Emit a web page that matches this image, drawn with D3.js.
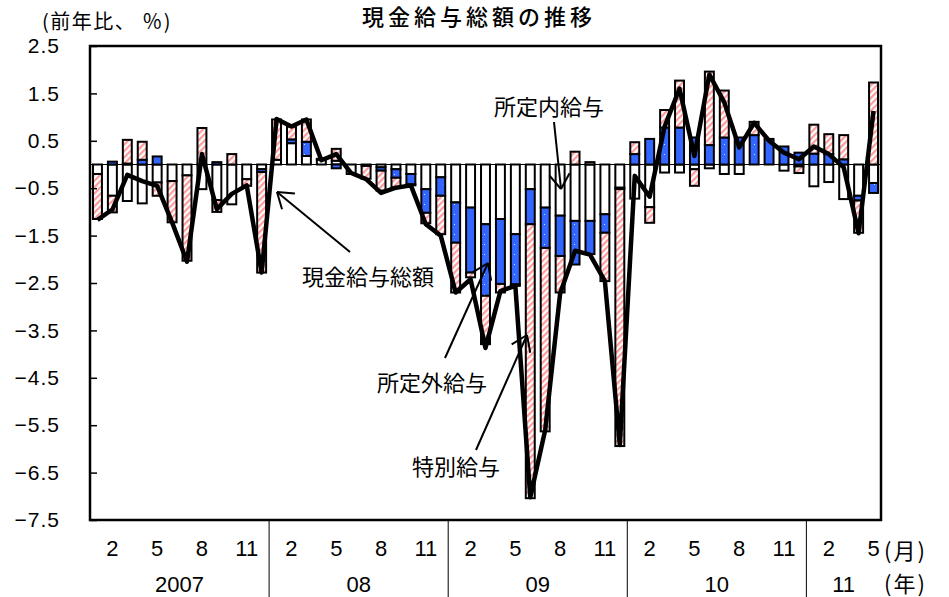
<!DOCTYPE html>
<html><head><meta charset="utf-8">
<script src="https://cdn.jsdelivr.net/npm/d3@7"></script>
<style>
body{margin:0;background:#fff}
svg{display:block}
.num{font-family:"Liberation Sans",Arial,sans-serif}
.jp{font-family:"Noto Sans CJK JP","Noto Sans CJK SC",sans-serif}
</style>
</head><body>
<svg id="c" width="949" height="597"></svg>
<script>
// ---------------- data ----------------
const years = ["2007", "08", "09", "10", "11"];
const monthsInYear = [12, 12, 12, 12, 5];
const monthTicks = [2, 5, 8, 11];
const yTicks = [2.5, 1.5, 0.5, -0.5, -1.5, -2.5, -3.5, -4.5, -5.5, -6.5, -7.5];

// 所定内給与 (scheduled earnings)
const shoteinai = [
  -0.20, -0.66, -0.77, -0.82, -0.38, -0.35, -0.23, -0.52, -0.75, -0.84, -0.31, -0.10,
   0.10,  0.45,  0.18,  0.10,  0.08, -0.20, -0.03, -0.06, -0.10, -0.20, -0.52, -0.27,
  -0.80, -0.91, -1.26, -1.15, -1.47, -0.52, -0.91, -1.08, -1.19, -1.19, -1.05, -0.49,
  -0.72, -0.90, -0.17, -0.17, -0.10, -0.08, -0.20, -0.20,  0.00,  0.00, -0.13, -0.04,
  -0.46, -0.37, -0.73, -0.66, -0.39
];
// 所定外給与 (non-scheduled earnings)
const shoteigai = [
   0.00,  0.06,  0.02,  0.10,  0.17,  0.00,  0.00,  0.00,  0.05,  0.00,  0.00, -0.06,
   0.00,  0.08,  0.30,  0.02, -0.08,  0.00,  0.00, -0.07, -0.18, -0.22, -0.50, -0.39,
  -0.85, -1.37, -1.51, -1.37, -1.06, -0.74, -0.85, -0.85, -0.92, -0.70, -0.39, -0.03,
   0.22,  0.54,  0.78,  0.78,  0.57,  0.41,  0.57,  0.57,  0.62,  0.54,  0.38,  0.25,
   0.23,  0.22,  0.11, -0.10, -0.21
];
// 特別給与 (special earnings)
const tokubetsu = [
  -0.95, -0.35,  0.50,  0.38, -0.28, -0.87, -1.80,  0.77, -0.25,  0.22, -0.14, -2.12,
   0.85,  0.27,  0.47,  0.00,  0.25,  0.00, -0.27, -0.42, -0.20, -0.02, -0.22, -0.81,
  -1.05, -0.10, -1.02, -0.18, -0.03, -5.78, -3.87, -0.77,  0.27,  0.05, -1.02, -5.42,
   0.25, -0.33,  0.37,  0.99, -0.35,  1.55,  0.99,  0.00,  0.28,  0.00,  0.00, -0.14,
   0.61,  0.42,  0.51, -0.68,  1.73
];
// 現金給与総額 (total cash earnings)
const total = [
  -1.17, -0.95, -0.22, -0.35, -0.45, -1.22, -2.05,  0.22, -0.94, -0.62, -0.44, -2.28,
   0.96,  0.80,  0.95,  0.09,  0.22, -0.18, -0.31, -0.60, -0.49, -0.44, -1.26, -1.50,
  -2.70, -2.42, -3.87, -2.67, -2.56, -7.02, -5.60, -2.72, -1.82, -1.90, -2.46, -5.92,
  -0.24, -0.68,  0.80,  1.60,  0.18,  1.90,  1.31,  0.36,  0.88,  0.50,  0.25,  0.11,
   0.38,  0.22, -0.06, -1.45,  1.13
];

// categories: year|month
const categories = [];
years.forEach((yr, i) => { for (let m = 1; m <= monthsInYear[i]; m++) categories.push(yr + "|" + m); });

// ---------------- chart ----------------
const svg = d3.select("#c");
const L = 90, R = 881, T = 46, B = 520;

const x = d3.scaleBand().domain(categories).range([L, R]).paddingInner(0.4).paddingOuter(0.2);
const y = d3.scaleLinear().domain([-7.5, 2.5]).range([B, T]);
const bw = x.bandwidth();
const cx = c => x(c) + bw / 2;

const defs = svg.append("defs");
const hatch = defs.append("pattern").attr("id", "hatch").attr("patternUnits", "userSpaceOnUse")
  .attr("width", 4.5).attr("height", 4.5).attr("patternTransform", "rotate(45)");
hatch.append("rect").attr("width", 4.5).attr("height", 4.5).attr("fill", "#fff");
hatch.append("rect").attr("width", 2.2).attr("height", 4.5).attr("fill", "#ff9a9a");

const dots = defs.append("pattern").attr("id", "dots").attr("patternUnits", "userSpaceOnUse")
  .attr("width", 10).attr("height", 10);
dots.append("rect").attr("width", 10).attr("height", 10).attr("fill", "#3366ff");
dots.append("rect").attr("x", 4).attr("y", 4).attr("width", 1).attr("height", 1).attr("fill", "#cfdcff");

// zero line
svg.append("line").attr("x1", L).attr("x2", R).attr("y1", y(0)).attr("y2", y(0))
  .attr("stroke", "#000").attr("stroke-width", 1.2);

// stacked bars
const keys = ["shoteinai", "shoteigai", "tokubetsu"];
const fills = { shoteinai: "#fff", shoteigai: "url(#dots)", tokubetsu: "url(#hatch)" };
const rows = categories.map((c, i) => ({ cat: c, shoteinai: shoteinai[i], shoteigai: shoteigai[i], tokubetsu: tokubetsu[i] }));
const series = d3.stack().keys(keys).offset(d3.stackOffsetDiverging)(rows);

svg.append("g").selectAll("g").data(series).join("g")
  .attr("fill", d => fills[d.key])
  .selectAll("rect").data(d => d.filter(p => p[0] !== p[1])).join("rect")
  .attr("x", d => x(d.data.cat))
  .attr("width", bw)
  .attr("y", d => y(Math.max(d[0], d[1])))
  .attr("height", d => Math.abs(y(d[0]) - y(d[1])))
  .attr("stroke", "#000").attr("stroke-width", 2);

// total line
const line = d3.line().x((d, i) => cx(categories[i])).y(d => y(d));
svg.append("path").datum(total).attr("d", line)
  .attr("fill", "none").attr("stroke", "#000").attr("stroke-width", 4.5).attr("stroke-linejoin", "round");

// plot border
svg.append("rect").attr("x", L).attr("y", T).attr("width", R - L).attr("height", B - T)
  .attr("fill", "none").attr("stroke", "#000").attr("stroke-width", 2.5);

// y axis
const yAxis = d3.axisLeft(y).tickValues(yTicks).tickSize(-7).tickPadding(30).tickFormat(d3.format(".1f"));
const gy = svg.append("g").attr("transform", `translate(${L},0)`).call(yAxis);
gy.select(".domain").remove();
gy.selectAll(".tick line").attr("stroke", "#000").attr("stroke-width", 1.5);
gy.selectAll("text").attr("class", "num").attr("font-size", 21).attr("fill", "#000").attr("letter-spacing", "1px");

// x axis months
const xAxis = d3.axisBottom(x)
  .tickValues(categories.filter(c => monthTicks.includes(+c.split("|")[1])))
  .tickFormat(c => c.split("|")[1]).tickSize(0).tickPadding(20);
const gx = svg.append("g").attr("transform", `translate(0,${B})`).call(xAxis);
gx.select(".domain").remove();
gx.selectAll("text").attr("class", "num").attr("font-size", 22).attr("fill", "#000");

// year separators and labels
const off = (x.step() - bw) / 2;
let idx = 0;
years.forEach((yr, i) => {
  const first = categories[idx], last = categories[idx + monthsInYear[i] - 1];
  const x0 = x(first) - off, x1 = x(last) + bw + off;
  if (i > 0) svg.append("line").attr("x1", x0).attr("x2", x0).attr("y1", B).attr("y2", 597)
    .attr("stroke", "#000").attr("stroke-width", 1);
  svg.append("text").attr("class", "num").attr("x", (x0 + x1) / 2).attr("y", 592)
    .attr("text-anchor", "middle").attr("font-size", 22).text(yr);
  idx += monthsInYear[i];
});
svg.append("text").attr("class", "jp").attr("x", 884).attr("y", 559).attr("font-size", 22)
  .attr("letter-spacing", "2px").text("(月)");
svg.append("text").attr("class", "jp").attr("x", 884).attr("y", 592).attr("font-size", 22)
  .attr("letter-spacing", "2px").text("(年)");

// titles
svg.append("text").attr("class", "jp").attr("x", 479).attr("y", 25).attr("text-anchor", "middle")
  .attr("font-size", 22).attr("font-weight", 500).attr("letter-spacing", "4px").text("現金給与総額の推移");
svg.append("text").attr("class", "jp").attr("x", 42).attr("y", 29).attr("font-size", 20)
  .attr("letter-spacing", "1.5px").text("(前年比、 ％)");

// annotations
function arrow(x1, y1, x2, y2) {
  const g = svg.append("g").attr("stroke", "#000").attr("stroke-width", 2).attr("fill", "none");
  g.append("line").attr("x1", x1).attr("y1", y1).attr("x2", x2).attr("y2", y2);
  const a = Math.atan2(y1 - y2, x1 - x2), len = 18, sp = 0.6;
  [a - sp, a + sp].forEach(t => g.append("line").attr("x1", x2).attr("y1", y2)
    .attr("x2", x2 + len * Math.cos(t)).attr("y2", y2 + len * Math.sin(t)));
}
const notes = [
  { t: "現金給与総額", x: 368, y: 285, ax: 350, ay: 252, bx: 277, by: 192 },
  { t: "所定内給与", x: 549, y: 115, ax: 554, ay: 122, bx: 561, by: 189 },
  { t: "所定外給与", x: 432, y: 391, ax: 445, ay: 358, bx: 488, by: 263 },
  { t: "特別給与", x: 456, y: 475, ax: 476, ay: 450, bx: 527, by: 335 }
];
notes.forEach(n => {
  svg.append("text").attr("class", "jp").attr("x", n.x).attr("y", n.y).attr("text-anchor", "middle")
    .attr("font-size", 22).text(n.t);
  arrow(n.ax, n.ay, n.bx, n.by);
});
</script>
</body></html>
